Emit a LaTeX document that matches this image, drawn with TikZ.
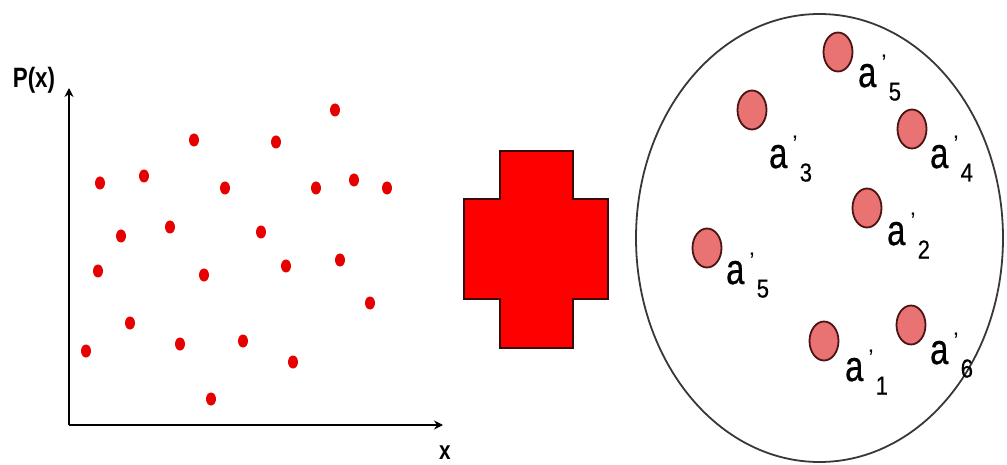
\documentclass[tikz,border=0pt]{standalone}
\usepackage{fontspec}
\setmainfont{Liberation Sans}
\newfontfamily\labfont[FakeStretch=0.76,FakeBold=0.6]{Liberation Sans}
\newfontfamily\subfont[FakeStretch=0.85,FakeBold=0.4]{Liberation Sans}
\newfontfamily\axfont[FakeStretch=0.8]{Liberation Sans}
\usetikzlibrary{arrows.meta,shapes.geometric}
\definecolor{dotred}{HTML}{E60000}
\definecolor{crossred}{HTML}{FF0000}
\definecolor{crossedge}{HTML}{3A0A0A}
\definecolor{pink}{HTML}{E97272}
\definecolor{pinkedge}{HTML}{4A1414}
\definecolor{rimgray}{HTML}{383838}
\newcommand{\primelab}[4]{% name, x, y, digit
  \node[lab] (#1) at (#2,#3) {{\labfont\fontsize{43}{43}\selectfont a}\kern5pt\raisebox{15pt}{\fontsize{24}{24}\selectfont ’}\kern2pt\raisebox{-13.5pt}{\subfont\fontsize{26}{26}\selectfont #4}};}
\begin{document}
\begin{tikzpicture}[x=1pt,y=-1pt,
  pt/.style={ellipse,fill=dotred,minimum width=10pt,minimum height=13pt,inner sep=0pt},
  elem/.style={ellipse,fill=pink,draw=pinkedge,line width=1.8pt,minimum width=29pt,minimum height=39pt,inner sep=0pt},
  axis/.style={line width=2.4pt,-{Stealth[length=9pt,width=9pt]}},
  lab/.style={anchor=base west,inner sep=0pt,text=black}]
\useasboundingbox (0,0) rectangle (1007,465);
\fill[white] (0,0) rectangle (1007,465);
% axes
\coordinate (O) at (69,425);
\coordinate (ytip) at (69,88);
\coordinate (xtip) at (443,425);
\draw[axis] (O) -- (ytip);
\draw[axis] (O) -- (xtip);
\node[inner sep=0pt] (px) at (34,80) {\axfont\bfseries\fontsize{28}{28}\selectfont P(x)};
\node[inner sep=0pt] (xl) at (445,453) {\axfont\bfseries\fontsize{26}{26}\selectfont x};
% scattered points
\node[pt] (d1) at (335,110) {};
\node[pt] (d2) at (194,140) {};
\node[pt] (d3) at (276,142) {};
\node[pt] (d4) at (100,183) {};
\node[pt] (d5) at (144,176) {};
\node[pt] (d6) at (225,188) {};
\node[pt] (d7) at (316,188) {};
\node[pt] (d8) at (354,180) {};
\node[pt] (d9) at (387,188) {};
\node[pt] (d10) at (121,236) {};
\node[pt] (d11) at (170,227) {};
\node[pt] (d12) at (261,232) {};
\node[pt] (d13) at (98,271) {};
\node[pt] (d14) at (204,275) {};
\node[pt] (d15) at (286,266) {};
\node[pt] (d16) at (340,260) {};
\node[pt] (d17) at (370,303) {};
\node[pt] (d18) at (130,323) {};
\node[pt] (d19) at (86,351) {};
\node[pt] (d20) at (180,344) {};
\node[pt] (d21) at (243,341) {};
\node[pt] (d22) at (293,362) {};
\node[pt] (d23) at (211,399) {};
% cross
\draw[fill=crossred,draw=crossedge,line width=1.2pt]
  (500,151) -- (573,151) -- (573,199) -- (608,199) -- (608,299) -- (573,299)
  -- (573,348) -- (500,348) -- (500,299) -- (464,299) -- (464,199) -- (500,199) -- cycle;
% big circle
\node[ellipse,draw=rimgray,line width=1.8pt,minimum width=367pt,minimum height=448pt,inner sep=0pt] (big) at (819.5,238) {};
% elements
\node[elem] (e5a) at (838,52) {};
\node[elem] (e3) at (752,110) {};
\node[elem] (e4) at (912,129) {};
\node[elem] (e2) at (867,208) {};
\node[elem] (e5b) at (707,248) {};
\node[elem] (e1) at (824,341) {};
\node[elem] (e6) at (911,325) {};
\primelab{l5a}{858}{87}{5}
\primelab{l3}{769}{168}{3}
\primelab{l4}{930}{168}{4}
\primelab{l2}{887}{245}{2}
\primelab{l5b}{726}{284}{5}
\primelab{l1}{845}{381}{1}
\primelab{l6}{930}{364}{6}
\end{tikzpicture}
\end{document}
